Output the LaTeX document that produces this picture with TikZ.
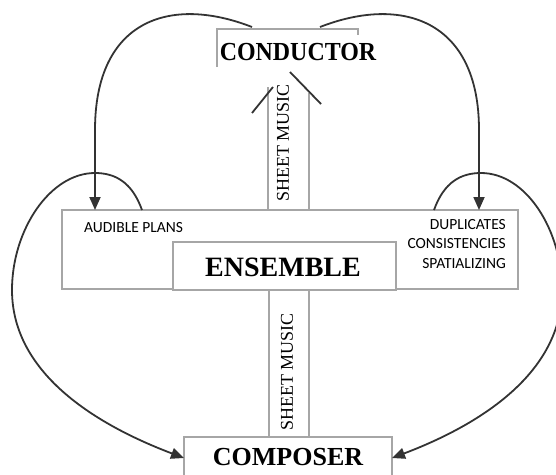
\documentclass[tikz,border=0pt]{standalone}
\usepackage{fontspec}
\setmainfont{Liberation Serif}
\newfontfamily\calfont{Carlito}
\usetikzlibrary{arrows.meta}
\begin{document}
\begin{tikzpicture}[x=1pt,y=-1pt,
  boxline/.style={draw=black!35,line width=1.3pt},
  flow/.style={draw=black!80,line width=1.8pt},
  tip/.style={-{Triangle[length=13pt,width=11pt]}},
  bigtitle/.style={font=\bfseries\fontsize{26}{28}\selectfont,inner sep=0pt},
  small/.style={font=\calfont\fontsize{15.5}{19.5}\selectfont,inner sep=0pt},
  sheet/.style={font=\fontsize{18}{20}\selectfont,rotate=90,inner sep=0pt}]
\useasboundingbox (0,0) rectangle (556,474);
\begin{scope}
\clip (0,0) rectangle (556,474);
% stems
\coordinate (ul1) at (268,87); \coordinate (ul2) at (309,93);
\coordinate (ll1) at (269,290); \coordinate (ll2) at (309,290);
\draw[boxline] (ul1) -- (268,210);
\draw[boxline] (ul2) -- (309,210);
\draw[boxline] (ll1) -- (269,437);
\draw[boxline] (ll2) -- (309,437);
% outer ensemble box
\node[boxline,fill=white,minimum width=456pt,minimum height=79pt,inner sep=0pt] (outer) at (290,249.5) {};
% inner ensemble box
\node[boxline,fill=white,minimum width=223pt,minimum height=48pt,inner sep=0pt] (ens) at (284.5,266) {};
\node[bigtitle,font=\bfseries\fontsize{28}{30}\selectfont] (enst) at (283,267) {ENSEMBLE};
% composer
\node[boxline,fill=white,minimum width=208pt,minimum height=42pt,inner sep=0pt] (comp) at (288,458) {};
\node[bigtitle] (compt) at (288,457) {COMPOSER};
% conductor
\node[bigtitle] (cond) at (298,52) {\scalebox{0.92}[1]{CONDUCTOR}};
\coordinate (cb1) at (217,67); \coordinate (cb2) at (217,29);
\coordinate (cb3) at (358,29); \coordinate (cb4) at (358,35);
\draw[boxline] (cb1) -- (cb2) -- (cb3) -- (cb4);
% sheet music texts
\node[sheet] (sm1) at (283,143) {SHEET MUSIC};
\node[sheet] (sm2) at (287,372) {SHEET MUSIC};
% chevron arrowhead
\coordinate (ch1) at (252,113); \coordinate (ch2) at (273,87);
\coordinate (ch3) at (290,72); \coordinate (ch4) at (321,104);
\draw[flow] (ch1) -- (ch2);
\draw[flow] (ch3) -- (ch4);
% small texts
\node[small,anchor=west] (aud) at (84,228) {AUDIBLE PLANS};
\node[small,anchor=north east,align=right] (dup) at (506,219) {DUPLICATES\\CONSISTENCIES\\SPATIALIZING};
% curves from conductor
\coordinate (cl) at (252,27); \coordinate (cr) at (320,27);
\coordinate (al) at (95,210); \coordinate (ar) at (479,210);
\draw[flow,tip] (cl) .. controls (170,-5) and (95,20) .. (95,130) -- (al);
\draw[flow,tip] (cr) .. controls (402,-5) and (479,20) .. (479,130) -- (ar);
% loops to composer
\coordinate (ls) at (142,210); \coordinate (rs) at (434,210);
\coordinate (le) at (184,458); \coordinate (re) at (392,458);
\draw[flow,tip] (ls) .. controls (132,182) and (115,173) .. (95,173)
  .. controls (50,173) and (12,230) .. (12,290)
  .. controls (12,380) and (110,430) .. (le);
\draw[flow,tip] (rs) .. controls (444,182) and (461,173) .. (481,173)
  .. controls (526,173) and (562,230) .. (562,290)
  .. controls (562,380) and (466,430) .. (re);
\end{scope}
\end{tikzpicture}
\end{document}
